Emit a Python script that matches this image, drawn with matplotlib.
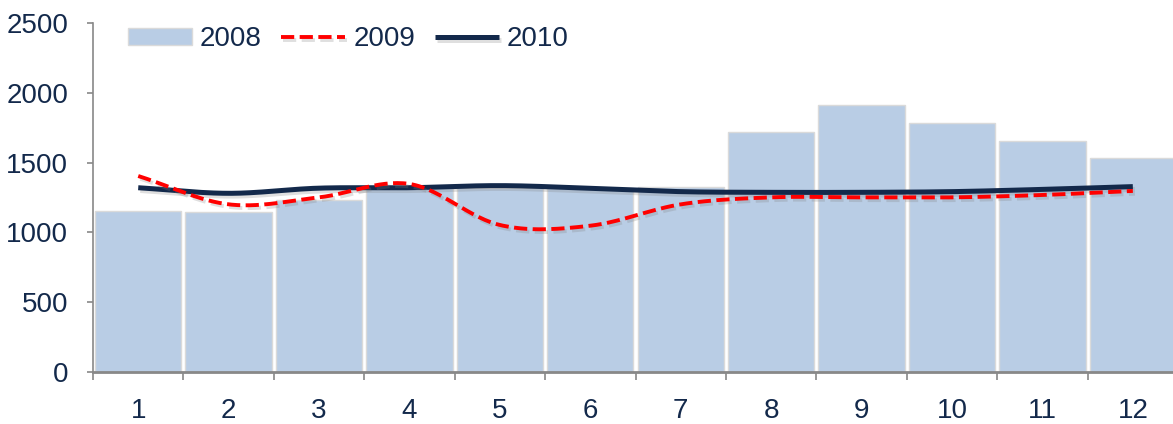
"""
Monthly values 2008 (bars) vs 2009 / 2010 (smoothed lines)
"""

import numpy as np
import matplotlib
matplotlib.use("Agg")
import matplotlib.pyplot as plt
import matplotlib.patheffects as pe

months = [1, 2, 3, 4, 5, 6, 7, 8, 9, 10, 11, 12]
vals_2008 = [1150, 1145, 1230, 1315, 1320, 1320, 1323, 1717, 1912, 1781, 1654, 1535]
vals_2009 = [1404, 1201, 1251, 1347, 1053, 1048, 1201, 1251, 1251, 1251, 1268, 1297]
vals_2010 = [1320, 1280, 1317, 1320, 1335, 1316, 1292, 1287, 1287, 1292, 1308, 1328]
y_ticks = [0, 500, 1000, 1500, 2000, 2500]

navy = "#13294B"
bar_col = "#B9CDE5"
plt.rcParams['font.family'] = ['Liberation Sans', 'DejaVu Sans']


def smooth(x, y, n=30):
    """Catmull-Rom curve through the points (like excel smoothed line)"""
    x = np.asarray(x, float)
    y = np.asarray(y, float)
    px = np.concatenate([[2*x[0]-x[1]], x, [2*x[-1]-x[-2]]])
    py = np.concatenate([[2*y[0]-y[1]], y, [2*y[-1]-y[-2]]])
    xs, ys = [], []
    for i in range(1, len(px)-2):
        t = np.linspace(0, 1, n, endpoint=False)
        for arr, out in ((px, xs), (py, ys)):
            p0, p1, p2, p3 = arr[i-1], arr[i], arr[i+1], arr[i+2]
            out.extend(0.5*((2*p1) + (-p0+p2)*t + (2*p0-5*p1+4*p2-p3)*t**2 + (-p0+3*p1-3*p2+p3)*t**3))
    xs.append(x[-1])
    ys.append(y[-1])
    return np.array(xs), np.array(ys)


fig = plt.figure(figsize=(11.73, 4.24), dpi=100)
ax = fig.add_axes([0.0793, 0.1226, 0.925, 0.8232])

ax.bar(months, vals_2008, width=0.955, color=bar_col, edgecolor="#DADADA", linewidth=1.0,
       label="2008", zorder=2)

shadow = [pe.SimpleLineShadow(offset=(1.5, -2), alpha=0.25, shadow_color="gray"), pe.Normal()]
sx, sy = smooth(months, vals_2010)
ax.plot(sx, sy, color=navy, lw=3.6, label="2010", zorder=3, path_effects=shadow,
        solid_capstyle="butt")
sx, sy = smooth(months, vals_2009)
ax.plot(sx, sy, color="#FF0000", lw=2.8, dashes=(3.4, 1.4), label="2009", zorder=4,
        path_effects=shadow)

ax.set_xlim(0.5, 12.5)
ax.set_ylim(0, 2500)
ax.set_yticks(y_ticks)
ax.set_yticklabels([str(v) for v in y_ticks])
ax.set_xticks(np.arange(0.5, 13, 1))
ax.set_xticklabels([])
ax.set_xticks(months, minor=True)
ax.set_xticklabels([str(m) for m in months], minor=True)

for s in ["top", "right"]:
    ax.spines[s].set_visible(False)
ax.spines["left"].set_color("#888888")
ax.spines["left"].set_linewidth(1.2)
ax.spines["bottom"].set_color("#888888")
ax.spines["bottom"].set_linewidth(2)
ax.spines["bottom"].set_zorder(5)
ax.tick_params(axis="y", colors="#888888", labelcolor=navy, labelsize=20, length=4, width=1.2, pad=14)
ax.tick_params(axis="x", which="major", colors="#888888", length=6, width=1.2)
ax.tick_params(axis="x", which="minor", length=0, labelcolor=navy, labelsize=20, pad=19)

handles, labels = ax.get_legend_handles_labels()
order = [labels.index(l) for l in ["2008", "2009", "2010"]]
leg = ax.legend([handles[i] for i in order], [labels[i] for i in order], loc="upper left",
                bbox_to_anchor=(0.032, 0.99), ncol=3, frameon=False, fontsize=20,
                labelcolor=navy, handlelength=2.3, handletextpad=0.3, columnspacing=0.7,
                handleheight=0.6, borderaxespad=0, borderpad=0)

fig.savefig("out.png", dpi=100)
